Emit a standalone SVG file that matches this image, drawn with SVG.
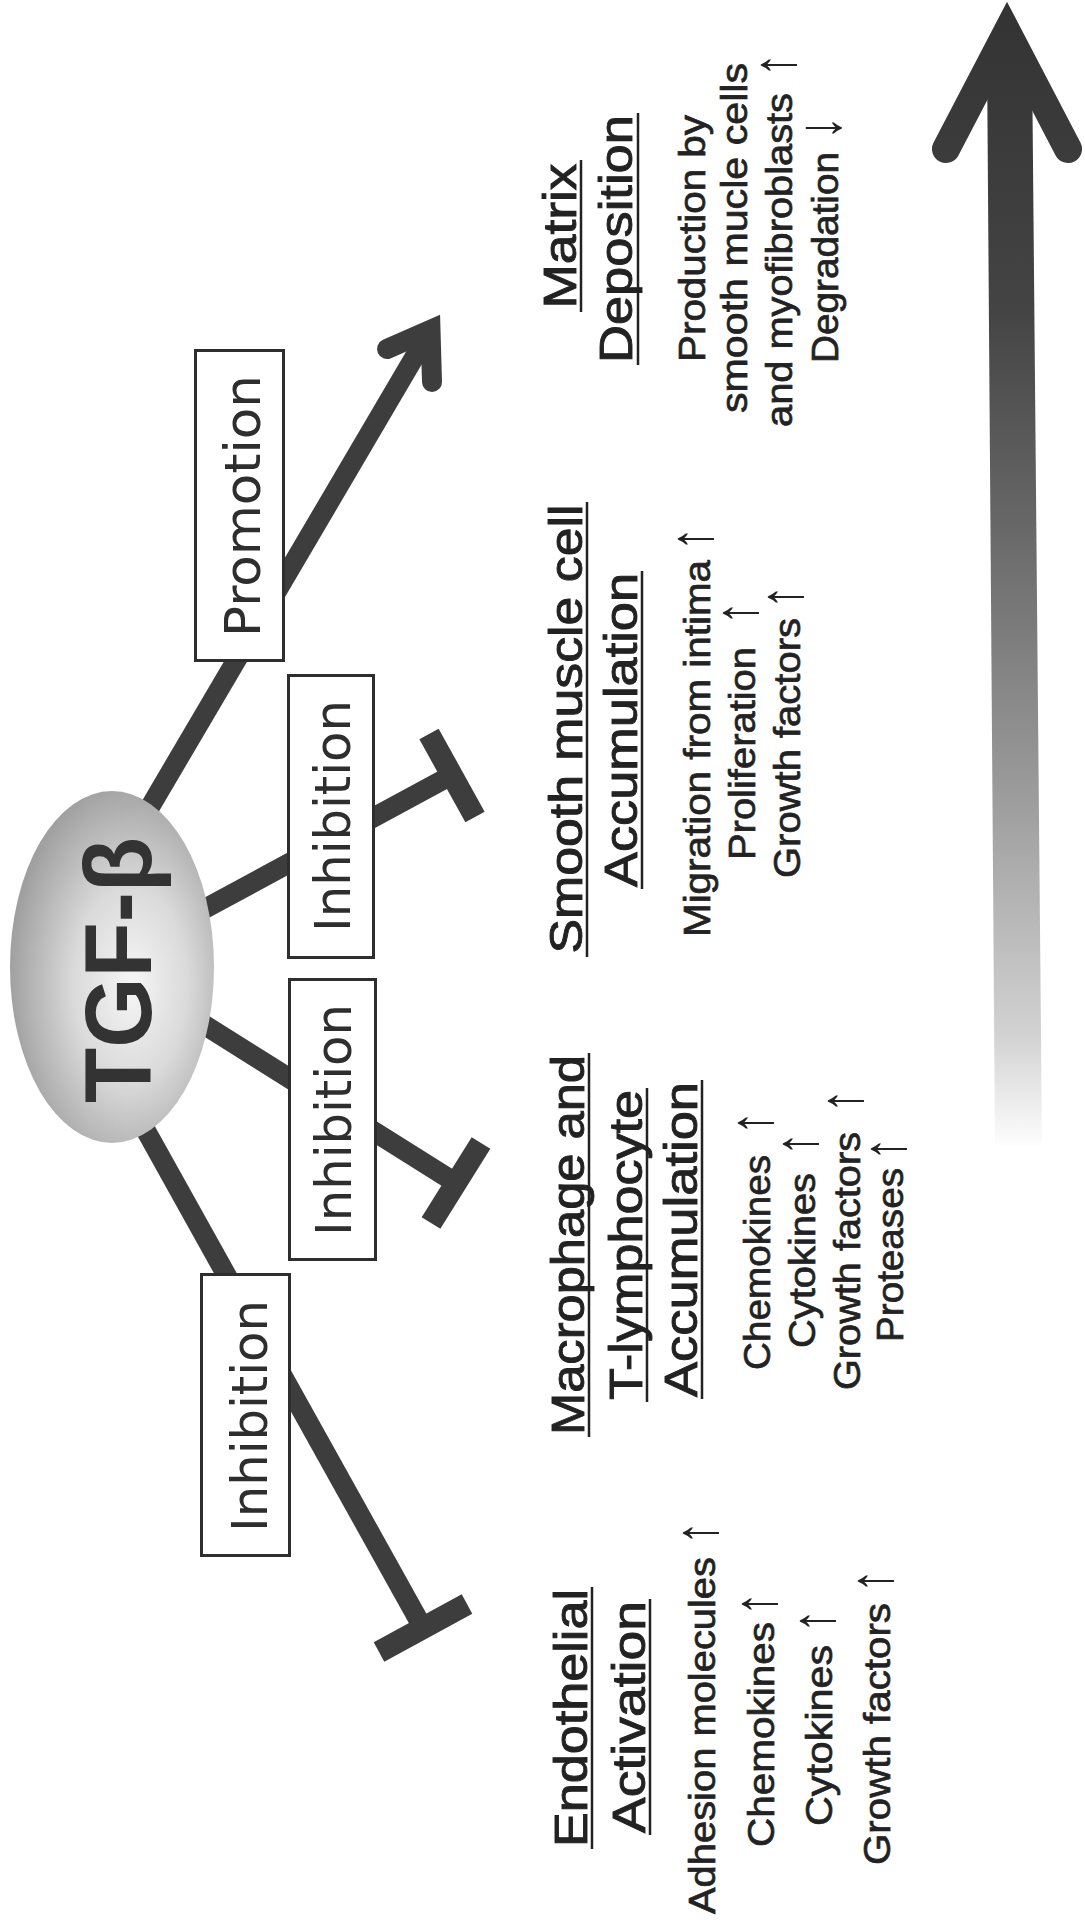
<svg xmlns="http://www.w3.org/2000/svg" width="1085" height="1927" viewBox="0 0 1085 1927">
<defs>
<radialGradient id="eg" cx="0.58" cy="0.55" r="0.62" fx="0.6" fy="0.55">
<stop offset="0" stop-color="#f6f6f6"/>
<stop offset="0.45" stop-color="#dadada"/>
<stop offset="1" stop-color="#999"/>
</radialGradient>
<linearGradient id="ag" gradientUnits="userSpaceOnUse" x1="0" y1="0" x2="0" y2="1150">
<stop offset="0" stop-color="#333"/>
<stop offset="0.27" stop-color="#444"/>
<stop offset="0.45" stop-color="#666"/>
<stop offset="0.68" stop-color="#999"/>
<stop offset="0.9" stop-color="#d2d2d2"/>
<stop offset="1" stop-color="#fff"/>
</linearGradient>
<style>
.ln{stroke:#3d3d3d;stroke-width:20;fill:none}
.bar{stroke:#3d3d3d;stroke-width:22;fill:none}
.box{fill:#fff;stroke:#2e2e2e;stroke-width:3}
.bl{font-family:"DejaVu Sans",sans-serif;font-size:50px;fill:#2e2e2e;text-anchor:middle}
.hd{font-family:"Liberation Sans",Arial,sans-serif;font-size:46px;fill:#222;stroke:#222;stroke-width:0.9px;text-anchor:middle}
.tx{font-family:"Liberation Sans",Arial,sans-serif;font-size:37px;fill:#222;stroke:#222;stroke-width:0.7px;text-anchor:middle}
.ar{font-family:"Liberation Sans",Arial,sans-serif;font-size:46px;fill:#222;text-anchor:middle}
.ul{stroke:#222;stroke-width:2.5}
</style>
</defs>
<rect width="1085" height="1927" fill="#fff"/>

<g id="connectors">
<line class="ln" x1="140" y1="824" x2="430.5" y2="329.8"/>
<path class="ln" d="M387,349 L430.5,329.8 L432,382" stroke-width="21" stroke-linecap="round" stroke-linejoin="miter"/>
<line class="ln" x1="195" y1="914" x2="452" y2="775"/>
<line class="bar" x1="429" y1="734" x2="475" y2="817"/>
<line class="ln" x1="195" y1="1019" x2="456" y2="1183"/>
<line class="bar" x1="431" y1="1223" x2="481" y2="1143"/>
<line class="ln" x1="140" y1="1120" x2="423" y2="1628"/>
<line class="bar" x1="379" y1="1652" x2="467" y2="1604"/>
</g>

<g id="progression-arrow">
<polygon points="987,55 1032,55 1042,1145 995,1145" fill="url(#ag)"/>
<path d="M946,149 L1007,32 L1068,149" fill="none" stroke="url(#ag)" stroke-width="28" stroke-linecap="round" stroke-linejoin="miter"/>
</g>

<g id="tgf-beta">
<ellipse cx="112" cy="967" rx="102" ry="176" fill="url(#eg)"/>
<text transform="translate(151,970) rotate(-90)" font-family="'Liberation Sans',Arial,sans-serif" font-weight="bold" font-size="94" fill="#333" text-anchor="middle" textLength="266" lengthAdjust="spacingAndGlyphs">TGF-β</text>
</g>

<g id="promotion">
<rect class="box" x="195.5" y="350.5" width="88" height="310"/>
<text class="bl" transform="translate(260,506) rotate(-90)" textLength="262" lengthAdjust="spacingAndGlyphs">Promotion</text>
</g>
<g id="inhibition-smc">
<rect class="box" x="288.5" y="675.5" width="85" height="282"/>
<text class="bl" transform="translate(350,816) rotate(-90)" textLength="232" lengthAdjust="spacingAndGlyphs">Inhibition</text>
</g>
<g id="inhibition-macrophage">
<rect class="box" x="289.5" y="979.5" width="86" height="280"/>
<text class="bl" transform="translate(351,1120) rotate(-90)" textLength="232" lengthAdjust="spacingAndGlyphs">Inhibition</text>
</g>
<g id="inhibition-endothelial">
<rect class="box" x="201.5" y="1274.5" width="88" height="281"/>
<text class="bl" transform="translate(267,1416) rotate(-90)" textLength="232" lengthAdjust="spacingAndGlyphs">Inhibition</text>
</g>

<g id="endothelial-activation">
<text class="hd" transform="translate(587,1718) rotate(-90)" textLength="258" lengthAdjust="spacingAndGlyphs">Endothelial</text>
<line class="ul" x1="592" y1="1587" x2="592" y2="1849"/>
<text class="hd" transform="translate(645,1717) rotate(-90)" textLength="232" lengthAdjust="spacingAndGlyphs">Activation</text>
<line class="ul" x1="650" y1="1599" x2="650" y2="1835"/>
<text class="tx" transform="translate(715,1735.5) rotate(-90)" textLength="357" lengthAdjust="spacingAndGlyphs">Adhesion molecules</text>
<text class="ar" transform="translate(717,1533) rotate(-90) scale(1,1.33)">↑</text>
<text class="tx" transform="translate(774,1734.5) rotate(-90)" textLength="225" lengthAdjust="spacingAndGlyphs">Chemokines</text>
<text class="ar" transform="translate(776,1604) rotate(-90) scale(1,1.33)">↑</text>
<text class="tx" transform="translate(832,1735.5) rotate(-90)" textLength="181" lengthAdjust="spacingAndGlyphs">Cytokines</text>
<text class="ar" transform="translate(834,1621) rotate(-90) scale(1,1.33)">↑</text>
<text class="tx" transform="translate(890,1734) rotate(-90)" textLength="262" lengthAdjust="spacingAndGlyphs">Growth factors</text>
<text class="ar" transform="translate(892,1581) rotate(-90) scale(1,1.33)">↑</text>
</g>

<g id="macrophage-accumulation">
<text class="hd" transform="translate(584,1245) rotate(-90)" textLength="380" lengthAdjust="spacingAndGlyphs">Macrophage and</text>
<line class="ul" x1="589" y1="1053" x2="589" y2="1437"/>
<text class="hd" transform="translate(642,1245) rotate(-90)" textLength="310" lengthAdjust="spacingAndGlyphs">T-lymphocyte</text>
<line class="ul" x1="647" y1="1088" x2="647" y2="1402"/>
<text class="hd" transform="translate(697,1239.5) rotate(-90)" textLength="315" lengthAdjust="spacingAndGlyphs">Accumulation</text>
<line class="ul" x1="702" y1="1080" x2="702" y2="1399"/>
<text class="tx" transform="translate(770,1262.5) rotate(-90)" textLength="215" lengthAdjust="spacingAndGlyphs">Chemokines</text>
<text class="ar" transform="translate(772,1123) rotate(-90) scale(1,1.33)">↑</text>
<text class="tx" transform="translate(815,1260.5) rotate(-90)" textLength="175" lengthAdjust="spacingAndGlyphs">Cytokines</text>
<text class="ar" transform="translate(817,1144) rotate(-90) scale(1,1.33)">↑</text>
<text class="tx" transform="translate(860,1261) rotate(-90)" textLength="258" lengthAdjust="spacingAndGlyphs">Growth factors</text>
<text class="ar" transform="translate(862,1101) rotate(-90) scale(1,1.33)">↑</text>
<text class="tx" transform="translate(903,1255) rotate(-90)" textLength="174" lengthAdjust="spacingAndGlyphs">Proteases</text>
<text class="ar" transform="translate(905,1149) rotate(-90) scale(1,1.33)">↑</text>
</g>

<g id="smc-accumulation">
<text class="hd" transform="translate(582,729) rotate(-90)" textLength="449" lengthAdjust="spacingAndGlyphs">Smooth muscle cell</text>
<line class="ul" x1="587" y1="502" x2="587" y2="957"/>
<text class="hd" transform="translate(637,730) rotate(-90)" textLength="314" lengthAdjust="spacingAndGlyphs">Accumulation</text>
<line class="ul" x1="642" y1="571" x2="642" y2="889"/>
<text class="tx" transform="translate(710,748.5) rotate(-90)" textLength="377" lengthAdjust="spacingAndGlyphs">Migration from intima</text>
<text class="ar" transform="translate(712,539) rotate(-90) scale(1,1.33)">↑</text>
<text class="tx" transform="translate(755,753.5) rotate(-90)" textLength="213" lengthAdjust="spacingAndGlyphs">Proliferation</text>
<text class="ar" transform="translate(757,613) rotate(-90) scale(1,1.33)">↑</text>
<text class="tx" transform="translate(800,748) rotate(-90)" textLength="260" lengthAdjust="spacingAndGlyphs">Growth factors</text>
<text class="ar" transform="translate(802,597) rotate(-90) scale(1,1.33)">↑</text>
</g>

<g id="matrix-deposition">
<text class="hd" transform="translate(576,236) rotate(-90)" textLength="145" lengthAdjust="spacingAndGlyphs">Matrix</text>
<line class="ul" x1="581" y1="160" x2="581" y2="312"/>
<text class="hd" transform="translate(632,239) rotate(-90)" textLength="248" lengthAdjust="spacingAndGlyphs">Deposition</text>
<line class="ul" x1="638" y1="113" x2="638" y2="365"/>
<text class="tx" transform="translate(705,238.5) rotate(-90)" textLength="247" lengthAdjust="spacingAndGlyphs">Production by</text>
<text class="tx" transform="translate(747,238) rotate(-90)" textLength="350" lengthAdjust="spacingAndGlyphs">smooth mucle cells</text>
<text class="tx" transform="translate(792,260) rotate(-90)" textLength="334" lengthAdjust="spacingAndGlyphs">and myofibroblasts</text>
<text class="ar" transform="translate(795,65) rotate(-90) scale(1,1.33)">↑</text>
<text class="tx" transform="translate(838,257.5) rotate(-90)" textLength="211" lengthAdjust="spacingAndGlyphs">Degradation</text>
<text class="ar" transform="translate(840,128) rotate(-90) scale(1,1.33)">↓</text>
</g>
</svg>
